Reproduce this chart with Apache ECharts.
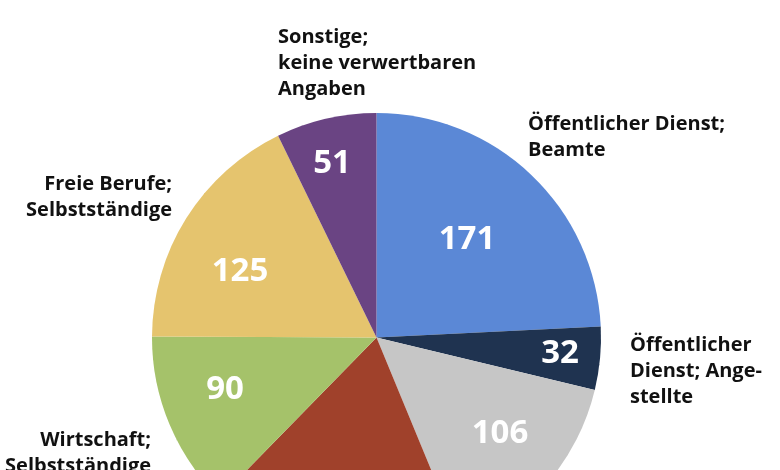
<!DOCTYPE html>
<html>
<head>
<meta charset="utf-8">
<script src="https://cdn.jsdelivr.net/npm/echarts@6/dist/echarts.min.js"></script>
<style>
  html, body { margin: 0; padding: 0; background: #fff; }
  #main { width: 780px; height: 470px; }
</style>
</head>
<body>
<div id="main"></div>
<script>
// data, clockwise from 12 o'clock
const categories = [
  'Öffentlicher Dienst;\nBeamte',
  'Öffentlicher\nDienst; Ange-\nstellte',
  'Wirtschaft;\nAngestellte',
  'Arbeiter',
  'Wirtschaft;\nSelbstständige',
  'Freie Berufe;\nSelbstständige',
  'Sonstige;\nkeine verwertbaren\nAngaben'
];
const values = [171, 32, 106, 131, 90, 125, 51];
const colors = ['#5b88d6', '#1f3350', '#c6c6c6', '#a0412b', '#a5c26a', '#e5c46e', '#6a4483'];

// label placement (px)
const innerPos = [[467, 240], [560, 354], [500, 434], [330, 520], [225, 390], [240, 272], [332, 164]];
const outerPos = [
  { x: 528, y: 111, align: 'left' },
  { x: 630, y: 332, align: 'left' },
  { x: 640, y: 560, align: 'left' },
  { x: 330, y: 580, align: 'left' },
  { x: 151, y: 427, align: 'right' },
  { x: 172, y: 171, align: 'right' },
  { x: 278, y: 24, align: 'left' }
];

const font = '"Open Sans", "Noto Sans", sans-serif';
const chart = echarts.init(document.getElementById('main'));

const pieData = categories.map((name, i) => ({
  name: name,
  value: values[i],
  itemStyle: { color: colors[i] }
}));

chart.setOption({
  animation: false,
  series: [
    {
      type: 'pie',
      center: [376.5, 337.5],
      radius: 224.5,
      startAngle: 90,
      clockwise: true,
      avoidLabelOverlap: false,
      silent: true,
      data: pieData,
      itemStyle: { borderWidth: 0 },
      label: {
        show: true,
        position: 'inside',
        formatter: '{c}',
        color: '#fff',
        fontFamily: font,
        fontWeight: 'bold',
        fontSize: 33
      },
      labelLayout: (p) => ({
        x: innerPos[p.dataIndex][0],
        y: innerPos[p.dataIndex][1],
        align: 'center',
        verticalAlign: 'middle'
      })
    },
    {
      type: 'pie',
      center: [376.5, 337.5],
      radius: 224.5,
      startAngle: 90,
      clockwise: true,
      avoidLabelOverlap: false,
      silent: true,
      data: pieData.map(d => ({ name: d.name, value: d.value })),
      itemStyle: { color: 'rgba(0,0,0,0)' },
      label: {
        show: true,
        position: 'outside',
        formatter: '{b}',
        color: '#111',
        fontFamily: font,
        fontWeight: 'bold',
        fontSize: 20,
        lineHeight: 26
      },
      labelLine: { show: false },
      labelLayout: (p) => ({
        x: outerPos[p.dataIndex].x,
        y: outerPos[p.dataIndex].y,
        align: outerPos[p.dataIndex].align,
        verticalAlign: 'top'
      })
    }
  ]
});
</script>
</body>
</html>
